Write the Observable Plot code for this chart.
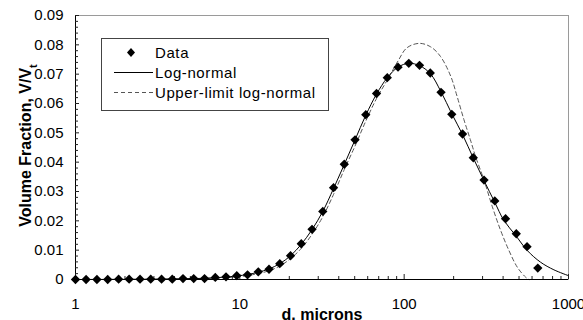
<!DOCTYPE html>
<html>
<head>
<meta charset="utf-8">
<script src="https://cdn.jsdelivr.net/npm/d3@7"></script>
<script src="https://cdn.jsdelivr.net/npm/@observablehq/plot@0.6"></script>
<style>
  html, body { margin: 0; padding: 0; background: #fff; overflow: hidden; }
  #wrap { position: relative; width: 583px; height: 320px; font-family: "Liberation Sans", Arial, sans-serif; }
  #legend { position: absolute; left: 101px; top: 38px; }
  #legend text { font-family: "Liberation Sans", Arial, sans-serif; font-size: 15px; letter-spacing: 0.6px; fill: #000; }
</style>
</head>
<body>
<div id="wrap">
  <svg id="legend" width="229" height="74" viewBox="0 0 229 74">
    <rect x="0.5" y="0.5" width="227" height="72" fill="#fff" stroke="#444" stroke-width="1"></rect>
    <path d="M30,10 L34,14.5 L30,19 L26,14.5 Z" fill="#000"></path>
    <text x="54" y="20">Data</text>
    <line x1="13" x2="52" y1="34.5" y2="34.5" stroke="#000" stroke-width="1"></line>
    <text x="54" y="40">Log-normal</text>
    <line x1="13" x2="52" y1="54.5" y2="54.5" stroke="#555" stroke-width="1" stroke-dasharray="4,3"></line>
    <text x="54" y="60">Upper-limit log-normal</text>
  </svg>
</div>
<script>
// Particle size classes (microns) and measured volume fractions
const sizes = [1.00, 1.16, 1.35, 1.57, 1.83, 2.12, 2.47, 2.87, 3.34, 3.88, 4.51, 5.24, 6.10, 7.09, 8.24, 9.58,
  11.14, 12.95, 15.05, 17.50, 20.35, 23.65, 27.50, 31.97, 37.17, 43.21, 50.24, 58.40, 67.90, 78.94, 91.77,
  106.7, 124.0, 144.2, 167.6, 194.9, 226.6, 263.4, 306.2, 356.0, 413.9, 481.2, 559.4, 650.4];
const fractions = [0, 0, 0, 0, 0.0001, 0.0001, 0.0001, 0.0001, 0.0001, 0.0001, 0.0003, 0.0003, 0.0003, 0.0007,
  0.0009, 0.0013, 0.0016, 0.0026, 0.0035, 0.0054, 0.0081, 0.0122, 0.0171, 0.0232, 0.0313, 0.0393, 0.0476,
  0.0562, 0.0634, 0.0688, 0.0724, 0.0737, 0.0730, 0.0704, 0.0638, 0.0563, 0.0496, 0.0415, 0.0339, 0.0268,
  0.0207, 0.0156, 0.0112, 0.0039];

// Log-normal fit curve
const logNormalX = [1, 2, 3, 4, 5, 6, 7, 8, 9.58, 11.14, 12.95, 15.05, 17.5, 20.35, 23.65, 27.5, 31.97, 37.17,
  43.21, 50.24, 58.4, 67.9, 78.94, 91.77, 106.7, 124, 144.2, 167.6, 194.9, 226.6, 263.4, 306.2, 356, 404, 476,
  561, 676, 815, 1000];
const logNormalY = [0, 0.00005, 0.0001, 0.0002, 0.0003, 0.0004, 0.0006, 0.0008, 0.0012, 0.0017, 0.0025, 0.0036,
  0.0054, 0.0081, 0.0120, 0.0170, 0.0232, 0.0310, 0.0392, 0.0476, 0.0560, 0.0632, 0.0688, 0.0724, 0.0737,
  0.0729, 0.0702, 0.0640, 0.0565, 0.0494, 0.0414, 0.0337, 0.0263, 0.0202, 0.0151, 0.0099, 0.0059, 0.0033, 0.0013];

// Upper-limit log-normal fit curve
const upperLimitX = [1, 5, 8, 10, 12.95, 15.05, 17.5, 20.35, 23.65, 27.5, 31.97, 37.17, 43.21, 50.24, 58.4, 67.9,
  78.94, 91.77, 104, 124, 145, 166, 192, 210, 231, 253, 272, 306, 344, 386, 434, 488, 548, 574];
const upperLimitY = [0, 0.0002, 0.0006, 0.0010, 0.0020, 0.0030, 0.0046, 0.0071, 0.0106, 0.0154, 0.0214, 0.0290,
  0.0375, 0.0455, 0.0540, 0.0617, 0.0680, 0.0745, 0.0790, 0.0805, 0.0793, 0.0761, 0.0693, 0.0624, 0.0545,
  0.0476, 0.0419, 0.0339, 0.0248, 0.0168, 0.0099, 0.0042, 0.0008, 0];

// Axes
const xTicks = [1, 10, 100, 1000];
const xTickLabels = ["1", "10", "100", "1000"];
const xMinorTicks = [2, 3, 4, 5, 6, 7, 8, 9, 20, 30, 40, 50, 60, 70, 80, 90, 200, 300, 400, 500, 600, 700, 800, 900];
const yTicks = [0, 0.01, 0.02, 0.03, 0.04, 0.05, 0.06, 0.07, 0.08, 0.09];
const yTickLabels = ["0", "0.01", "0.02", "0.03", "0.04", "0.05", "0.06", "0.07", "0.08", "0.09"];
const yMinorTicks = [0.002, 0.004, 0.006, 0.008, 0.012, 0.014, 0.016, 0.018, 0.022, 0.024, 0.026, 0.028,
  0.032, 0.034, 0.036, 0.038, 0.042, 0.044, 0.046, 0.048, 0.052, 0.054, 0.056, 0.058, 0.062, 0.064, 0.066, 0.068,
  0.072, 0.074, 0.076, 0.078, 0.082, 0.084, 0.086, 0.088];
const xLabel = "d. microns";
const yLabel = "Volume Fraction, V/V";

const dataPts = sizes.map((d, i) => ({d, v: fractions[i]}));
const lnPts = logNormalX.map((d, i) => ({d, v: logNormalY[i]}));
const ulPts = upperLimitX.map((d, i) => ({d, v: upperLimitY[i]}));

const plot = Plot.plot({
  width: 583,
  height: 320,
  marginLeft: 75,
  marginRight: 15,
  marginTop: 15,
  marginBottom: 41,
  style: {fontFamily: '"Liberation Sans", Arial, sans-serif', fontSize: "15px", color: "#000", background: "#fff"},
  x: {type: "log", domain: [1, 1000], axis: null},
  y: {domain: [0, 0.09], axis: null},
  marks: [
    Plot.frame({stroke: "#9a9a9a", strokeWidth: 1}),
    Plot.line(ulPts, {x: "d", y: "v", stroke: "#555", strokeWidth: 1, strokeDasharray: "4,3", curve: "catmull-rom"}),
    Plot.line(lnPts, {x: "d", y: "v", stroke: "#000", strokeWidth: 1, curve: "catmull-rom"}),
    Plot.ruleY([0], {stroke: "#000", strokeWidth: 1}),
    Plot.ruleX([1], {stroke: "#000", strokeWidth: 1}),
    Plot.axisY({ticks: yMinorTicks, tickSize: -3, tickFormat: () => "", label: null, stroke: "#222"}),
    Plot.axisY({ticks: yTicks, tickSize: -4, tickFormat: () => "", label: null, stroke: "#222"}),
    Plot.axisY({ticks: yTicks, tickSize: 0, tickPadding: 12, tickFormat: d => yTickLabels[yTicks.indexOf(d)], label: null}),
    Plot.axisX({ticks: xMinorTicks, tickSize: -3, tickFormat: () => "", label: null, stroke: "#222"}),
    Plot.axisX({ticks: xTicks, tickSize: -5, tickFormat: () => "", label: null, stroke: "#222"}),
    Plot.axisX({ticks: xTicks, tickSize: 0, tickPadding: 19, tickFormat: d => xTickLabels[xTicks.indexOf(d)], label: null}),
    Plot.dot(dataPts, {x: "d", y: "v", symbol: "diamond2", r: 4.2, fill: "#000", stroke: "none"}),
    Plot.text([xLabel], {text: d => d, frameAnchor: "bottom", textAnchor: "middle", lineAnchor: "middle", dy: 35, fontWeight: "bold", fontSize: 16}),
    Plot.text([yLabel], {text: d => d, frameAnchor: "left", textAnchor: "middle", lineAnchor: "middle", dx: -50, dy: -2, rotate: -90, fontWeight: "bold", fontSize: 16, letterSpacing: "2.2px"})
  ]
});

const wrap = document.getElementById("wrap");
wrap.insertBefore(plot, wrap.firstChild);

// subscript "t" in V/Vt
d3.select(plot).selectAll("text").filter(function() { return this.textContent === yLabel; })
  .append("tspan").attr("baseline-shift", "sub").attr("font-size", "11px").text("t");
</script>
</body>
</html>
